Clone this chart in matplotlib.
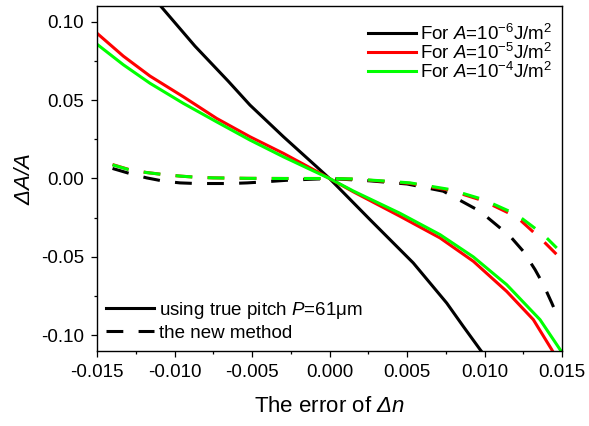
import matplotlib
matplotlib.use("Agg")
import matplotlib.pyplot as plt
from matplotlib.ticker import MultipleLocator, FormatStrFormatter
from matplotlib.lines import Line2D

plt.rcParams["font.family"] = ["Liberation Sans", "DejaVu Sans"]
plt.rcParams["mathtext.fontset"] = "custom"
plt.rcParams["mathtext.rm"] = "Liberation Sans"
plt.rcParams["mathtext.it"] = "Liberation Sans:italic"
plt.rcParams["mathtext.sf"] = "Liberation Sans:italic"
plt.rcParams["axes.unicode_minus"] = False

# solid curves: using true pitch P=61um
x_true_a6 = [-0.0112, -0.0109, -0.00868, -0.00653, -0.00513, -0.00297,
             -0.00082, 0.0, 0.00261, 0.0054, 0.00756, 0.00863, 0.00971, 0.0099]
y_true_a6 = [0.1125, 0.110, 0.0844, 0.0620, 0.0468, 0.0266,
             0.0074, 0.0, -0.0262, -0.0538, -0.0794, -0.0943, -0.109, -0.1115]

x_true_a5 = [-0.015, -0.0133, -0.01158, -0.00943, -0.00728, -0.00513,
             -0.00297, -0.00082, 0.0, 0.00154, 0.00455, 0.00713, 0.00928,
             0.01143, 0.01315, 0.01433, 0.0145]
y_true_a5 = [0.0926, 0.078, 0.0653, 0.0521, 0.0383, 0.0266,
             0.016, 0.0045, 0.0, -0.0085, -0.0241, -0.0379, -0.0528,
             -0.072, -0.090, -0.109, -0.112]

x_true_a4 = [-0.015, -0.0133, -0.01158, -0.00943, -0.00728, -0.00513,
             -0.00297, -0.00082, 0.0, 0.00154, 0.00455, 0.00713, 0.00928,
             0.01143, 0.01358, 0.01487, 0.0150]
y_true_a4 = [0.0856, 0.0725, 0.0607, 0.0479, 0.0361, 0.0245,
             0.0138, 0.0038, 0.0, -0.008, -0.0222, -0.0358, -0.050,
             -0.0677, -0.090, -0.109, -0.111]

# dashed curves: the new method
x_new_a6 = [-0.0140, -0.0129, -0.0118, -0.0107, -0.00965, -0.0086, -0.0075,
            -0.0064, -0.0053, -0.0043, -0.0027, 0.0, 0.0026, 0.0050,
            0.00734, 0.00971, 0.01165, 0.0125, 0.01326, 0.0138, 0.01434,
            0.01476]
y_new_a6 = [0.0064, 0.0032, 0.0004, -0.0017, -0.0028, -0.0032, -0.0032,
            -0.0032, -0.0028, -0.0022, -0.0011, 0.0, -0.0015, -0.0035,
            -0.0081, -0.0209, -0.0368, -0.0464, -0.0581, -0.0677, -0.0794,
            -0.089]

x_new = [-0.0140, -0.0129, -0.0118, -0.0107, -0.0096, -0.0086, -0.0075,
         -0.0053, -0.003, 0.0, 0.00154, 0.00369, 0.0052, 0.00777, 0.00992,
         0.01208, 0.0138, 0.01466]
y_new_a5 = [0.0089, 0.0056, 0.0038, 0.0025, 0.0015, 0.0008, 0.0004,
            0.0001, 0.0, 0.0, -0.0004, -0.0019, -0.0031, -0.0075, -0.0142,
            -0.0245, -0.040, -0.0485]
y_new_a4 = [0.0087, 0.0055, 0.0038, 0.0025, 0.0015, 0.0008, 0.0004,
            0.0001, 0.0, 0.0, -0.0003, -0.0017, -0.0028, -0.007, -0.0134,
            -0.023, -0.0358, -0.0443]

labels = [r"For $A$=10$^{-6}$J/m$^{2}$",
          r"For $A$=10$^{-5}$J/m$^{2}$",
          r"For $A$=10$^{-4}$J/m$^{2}$"]
colors = ["black", "#ff0000", "#00ff00"]

lw = 2.2
dash = (0, (5.5, 5))

fig = plt.figure(figsize=(5.89, 4.26), dpi=100)
ax = fig.add_axes([0.1647, 0.176, 0.7895, 0.81])

ax.plot(x_true_a6, y_true_a6, color=colors[0], lw=lw)
ax.plot(x_true_a5, y_true_a5, color=colors[1], lw=lw)
ax.plot(x_true_a4, y_true_a4, color=colors[2], lw=lw)
ax.plot(x_new_a6, y_new_a6, color=colors[0], lw=lw, linestyle=dash)
ax.plot(x_new, y_new_a5, color=colors[1], lw=lw, linestyle=dash)
ax.plot(x_new, y_new_a4, color=colors[2], lw=lw, linestyle=dash)

ax.set_xlim(-0.015, 0.015)
ax.set_ylim(-0.11, 0.11)
ax.xaxis.set_major_locator(MultipleLocator(0.005))
ax.xaxis.set_minor_locator(MultipleLocator(0.0025))
ax.yaxis.set_major_locator(MultipleLocator(0.05))
ax.yaxis.set_minor_locator(MultipleLocator(0.025))
ax.xaxis.set_major_formatter(FormatStrFormatter("%.3f"))
ax.yaxis.set_major_formatter(FormatStrFormatter("%.2f"))
ax.tick_params(which="both", direction="out", top=False, right=False,
               labelsize=13.5, width=0.9)
ax.tick_params(which="major", length=4.5, pad=5)
ax.tick_params(which="minor", length=2.5)
for s in ax.spines.values():
    s.set_linewidth(1.0)

ax.set_xlabel(r"The error of $\mathsf{Δn}$", fontsize=16, labelpad=11)
ax.set_ylabel(r"$\mathsf{ΔA/A}$", fontsize=16, labelpad=4)

h1 = [Line2D([], [], color=c, lw=lw) for c in colors]
leg1 = ax.legend(h1, labels, loc="upper right", bbox_to_anchor=(1.0, 0.976),
                 frameon=False, fontsize=13.5,
                 handlelength=2.55, handletextpad=0.25, labelspacing=-0.06,
                 borderaxespad=0.2, borderpad=0.3)
ax.add_artist(leg1)

h2 = [Line2D([], [], color="black", lw=lw),
      Line2D([], [], color="black", lw=lw, linestyle=dash)]
ax.legend(h2, [r"using true pitch $P$=61μm", "the new method"],
          loc="lower left", frameon=False, fontsize=13.5,
          handlelength=2.55, handletextpad=0.25, labelspacing=0.2,
          borderaxespad=0.2, borderpad=0.3)

fig.savefig("out.png", dpi=100)
